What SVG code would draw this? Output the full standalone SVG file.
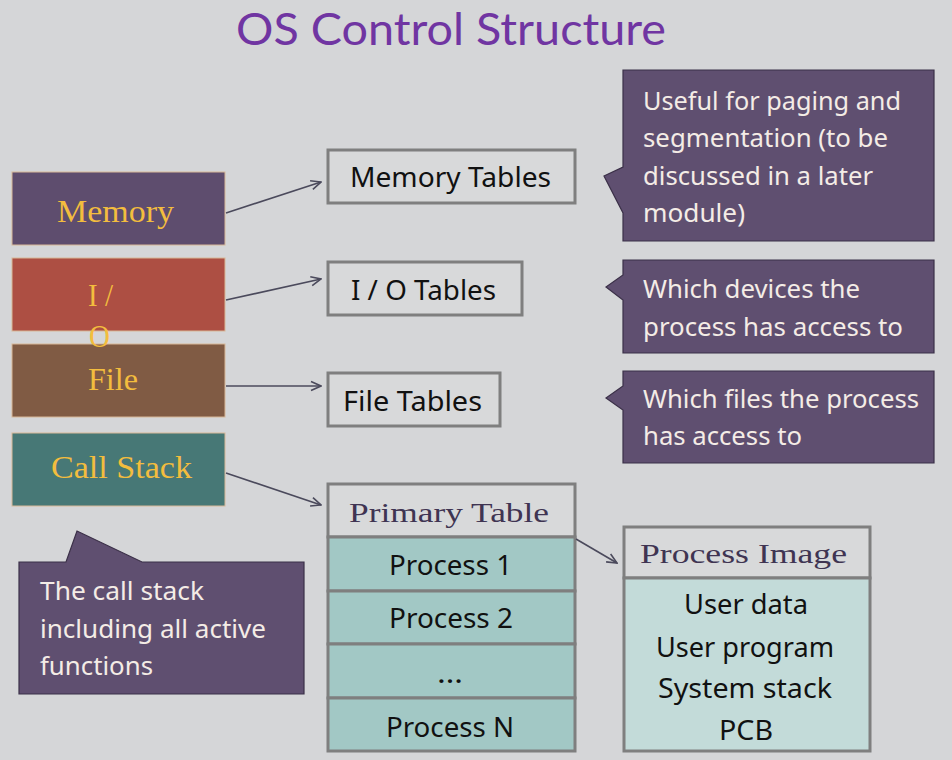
<svg xmlns="http://www.w3.org/2000/svg" width="952" height="760" viewBox="0 0 952 760">
<defs>
<marker id="arr" viewBox="0 0 12 12" refX="11" refY="6" markerWidth="12" markerHeight="12" markerUnits="userSpaceOnUse" orient="auto">
<path d="M1,1.5 L11,6 L1,10.5" fill="none" stroke="#4b4a5c" stroke-width="1.6"/>
</marker>
<style>
.bg{fill:#d5d6d8}
.title{font-family:Lato,"Noto Sans",sans-serif;font-size:45px;fill:#7035a2}
.lbox{stroke:#d8b898;stroke-width:1}
.gold{font-family:"Liberation Serif","DejaVu Serif",serif;font-size:31px;fill:#f3bd3e}
.callout{fill:#5f4f70;stroke:#3b3048;stroke-width:1.2}
.ctext{font-family:"Noto Sans","Open Sans",sans-serif;font-size:26px;fill:#f4ece6}
.tbl{fill:#d8d9da;stroke:#7f7f7f;stroke-width:3}
.row{fill:#a2c8c5;stroke:#7f7f7f;stroke-width:3}
.body{fill:#c3dbd9;stroke:#7f7f7f;stroke-width:3}
.ttext{font-family:"Noto Sans","Open Sans",sans-serif;font-size:27px;fill:#111111}
.stext{font-family:"Liberation Serif","DejaVu Serif",serif;font-size:28px;fill:#3f3452}
.conn{stroke:#4b4a5c;stroke-width:1.6;fill:none;marker-end:url(#arr)}
</style>
</defs>
<rect class="bg" x="0" y="0" width="952" height="760"/>
<text class="title" x="236" y="45" textLength="430" lengthAdjust="spacingAndGlyphs">OS Control Structure</text>

<g id="memory">
<rect class="lbox" x="12" y="172" width="213" height="73" fill="#5e4d6e"/>
<text class="gold" x="57" y="222" textLength="117" lengthAdjust="spacingAndGlyphs">Memory</text>
</g>
<g id="file">
<rect class="lbox" x="12" y="344" width="213" height="73" fill="#805b44"/>
<text class="gold" x="88" y="390" textLength="50" lengthAdjust="spacingAndGlyphs">File</text>
</g>
<g id="io">
<rect class="lbox" x="12" y="258" width="213" height="73" fill="#ad4f43"/>
<text class="gold" x="88" y="306" textLength="25" lengthAdjust="spacingAndGlyphs">I /</text>
<text class="gold" x="89" y="347" textLength="21" lengthAdjust="spacingAndGlyphs">O</text>
</g>
<g id="callstack">
<rect class="lbox" x="12" y="433" width="213" height="73" fill="#477876"/>
<text class="gold" x="51" y="478" textLength="141" lengthAdjust="spacingAndGlyphs">Call Stack</text>
</g>

<g id="note-callstack">
<path class="callout" d="M19,562 L66,562 L77,531 L142,562 L304,562 L304,694 L19,694 Z"/>
<text class="ctext" x="40" y="600" textLength="164" lengthAdjust="spacingAndGlyphs">The call stack</text>
<text class="ctext" x="40" y="638" textLength="226" lengthAdjust="spacingAndGlyphs">including all active</text>
<text class="ctext" x="40" y="675" textLength="113" lengthAdjust="spacingAndGlyphs">functions</text>
</g>

<g id="memory-tables">
<rect class="tbl" x="328" y="150" width="247" height="53"/>
<text class="ttext" x="350" y="187" textLength="201" lengthAdjust="spacingAndGlyphs">Memory Tables</text>
</g>
<g id="io-tables">
<rect class="tbl" x="328" y="262" width="194" height="53"/>
<text class="ttext" x="351" y="300" textLength="145" lengthAdjust="spacingAndGlyphs">I / O Tables</text>
</g>
<g id="file-tables">
<rect class="tbl" x="328" y="373" width="172" height="53"/>
<text class="ttext" x="343" y="411" textLength="139" lengthAdjust="spacingAndGlyphs">File Tables</text>
</g>

<g id="note-memory">
<path class="callout" d="M623,70 L934,70 L934,241 L623,241 L623,213 L604,176 L623,167 Z"/>
<text class="ctext" x="643" y="110" textLength="258" lengthAdjust="spacingAndGlyphs">Useful for paging and</text>
<text class="ctext" x="643" y="147" textLength="245" lengthAdjust="spacingAndGlyphs">segmentation (to be</text>
<text class="ctext" x="643" y="185" textLength="230" lengthAdjust="spacingAndGlyphs">discussed in a later</text>
<text class="ctext" x="643" y="222" textLength="102" lengthAdjust="spacingAndGlyphs">module)</text>
</g>
<g id="note-io">
<path class="callout" d="M623,260 L934,260 L934,353 L623,353 L623,300 L606,287 L623,275 Z"/>
<text class="ctext" x="643" y="298" textLength="217" lengthAdjust="spacingAndGlyphs">Which devices the</text>
<text class="ctext" x="643" y="336" textLength="260" lengthAdjust="spacingAndGlyphs">process has access to</text>
</g>
<g id="note-file">
<path class="callout" d="M623,371 L934,371 L934,463 L623,463 L623,410 L606,398 L623,386 Z"/>
<text class="ctext" x="643" y="408" textLength="276" lengthAdjust="spacingAndGlyphs">Which files the process</text>
<text class="ctext" x="643" y="445" textLength="159" lengthAdjust="spacingAndGlyphs">has access to</text>
</g>

<g id="primary-table">
<rect class="tbl" x="328" y="484" width="247" height="53"/>
<text class="stext" x="349" y="522" textLength="200" lengthAdjust="spacingAndGlyphs">Primary Table</text>
<rect class="row" x="328" y="537" width="247" height="54"/>
<text class="ttext" x="389" y="575" textLength="123" lengthAdjust="spacingAndGlyphs">Process 1</text>
<rect class="row" x="328" y="591" width="247" height="53"/>
<text class="ttext" x="389" y="628" textLength="124" lengthAdjust="spacingAndGlyphs">Process 2</text>
<rect class="row" x="328" y="644" width="247" height="54"/>
<text class="ttext" x="437" y="683" textLength="26" lengthAdjust="spacingAndGlyphs">…</text>
<rect class="row" x="328" y="698" width="247" height="53"/>
<text class="ttext" x="386" y="737" textLength="128" lengthAdjust="spacingAndGlyphs">Process N</text>
</g>

<g id="process-image">
<rect class="tbl" x="624" y="527" width="246" height="51"/>
<text class="stext" x="640" y="563" textLength="207" lengthAdjust="spacingAndGlyphs">Process Image</text>
<rect class="body" x="624" y="578" width="246" height="173"/>
<text class="ttext" x="684" y="614" textLength="124" lengthAdjust="spacingAndGlyphs">User data</text>
<text class="ttext" x="656" y="657" textLength="178" lengthAdjust="spacingAndGlyphs">User program</text>
<text class="ttext" x="658" y="698" textLength="174" lengthAdjust="spacingAndGlyphs">System stack</text>
<text class="ttext" x="719" y="740" textLength="54" lengthAdjust="spacingAndGlyphs">PCB</text>
</g>

<g id="connectors">
<line class="conn" x1="226" y1="213" x2="321" y2="182"/>
<line class="conn" x1="226" y1="300" x2="321" y2="279"/>
<line class="conn" x1="226" y1="386" x2="321" y2="386"/>
<line class="conn" x1="226" y1="473" x2="321" y2="505"/>
<line class="conn" x1="576" y1="539" x2="617" y2="563"/>
</g>
</svg>
